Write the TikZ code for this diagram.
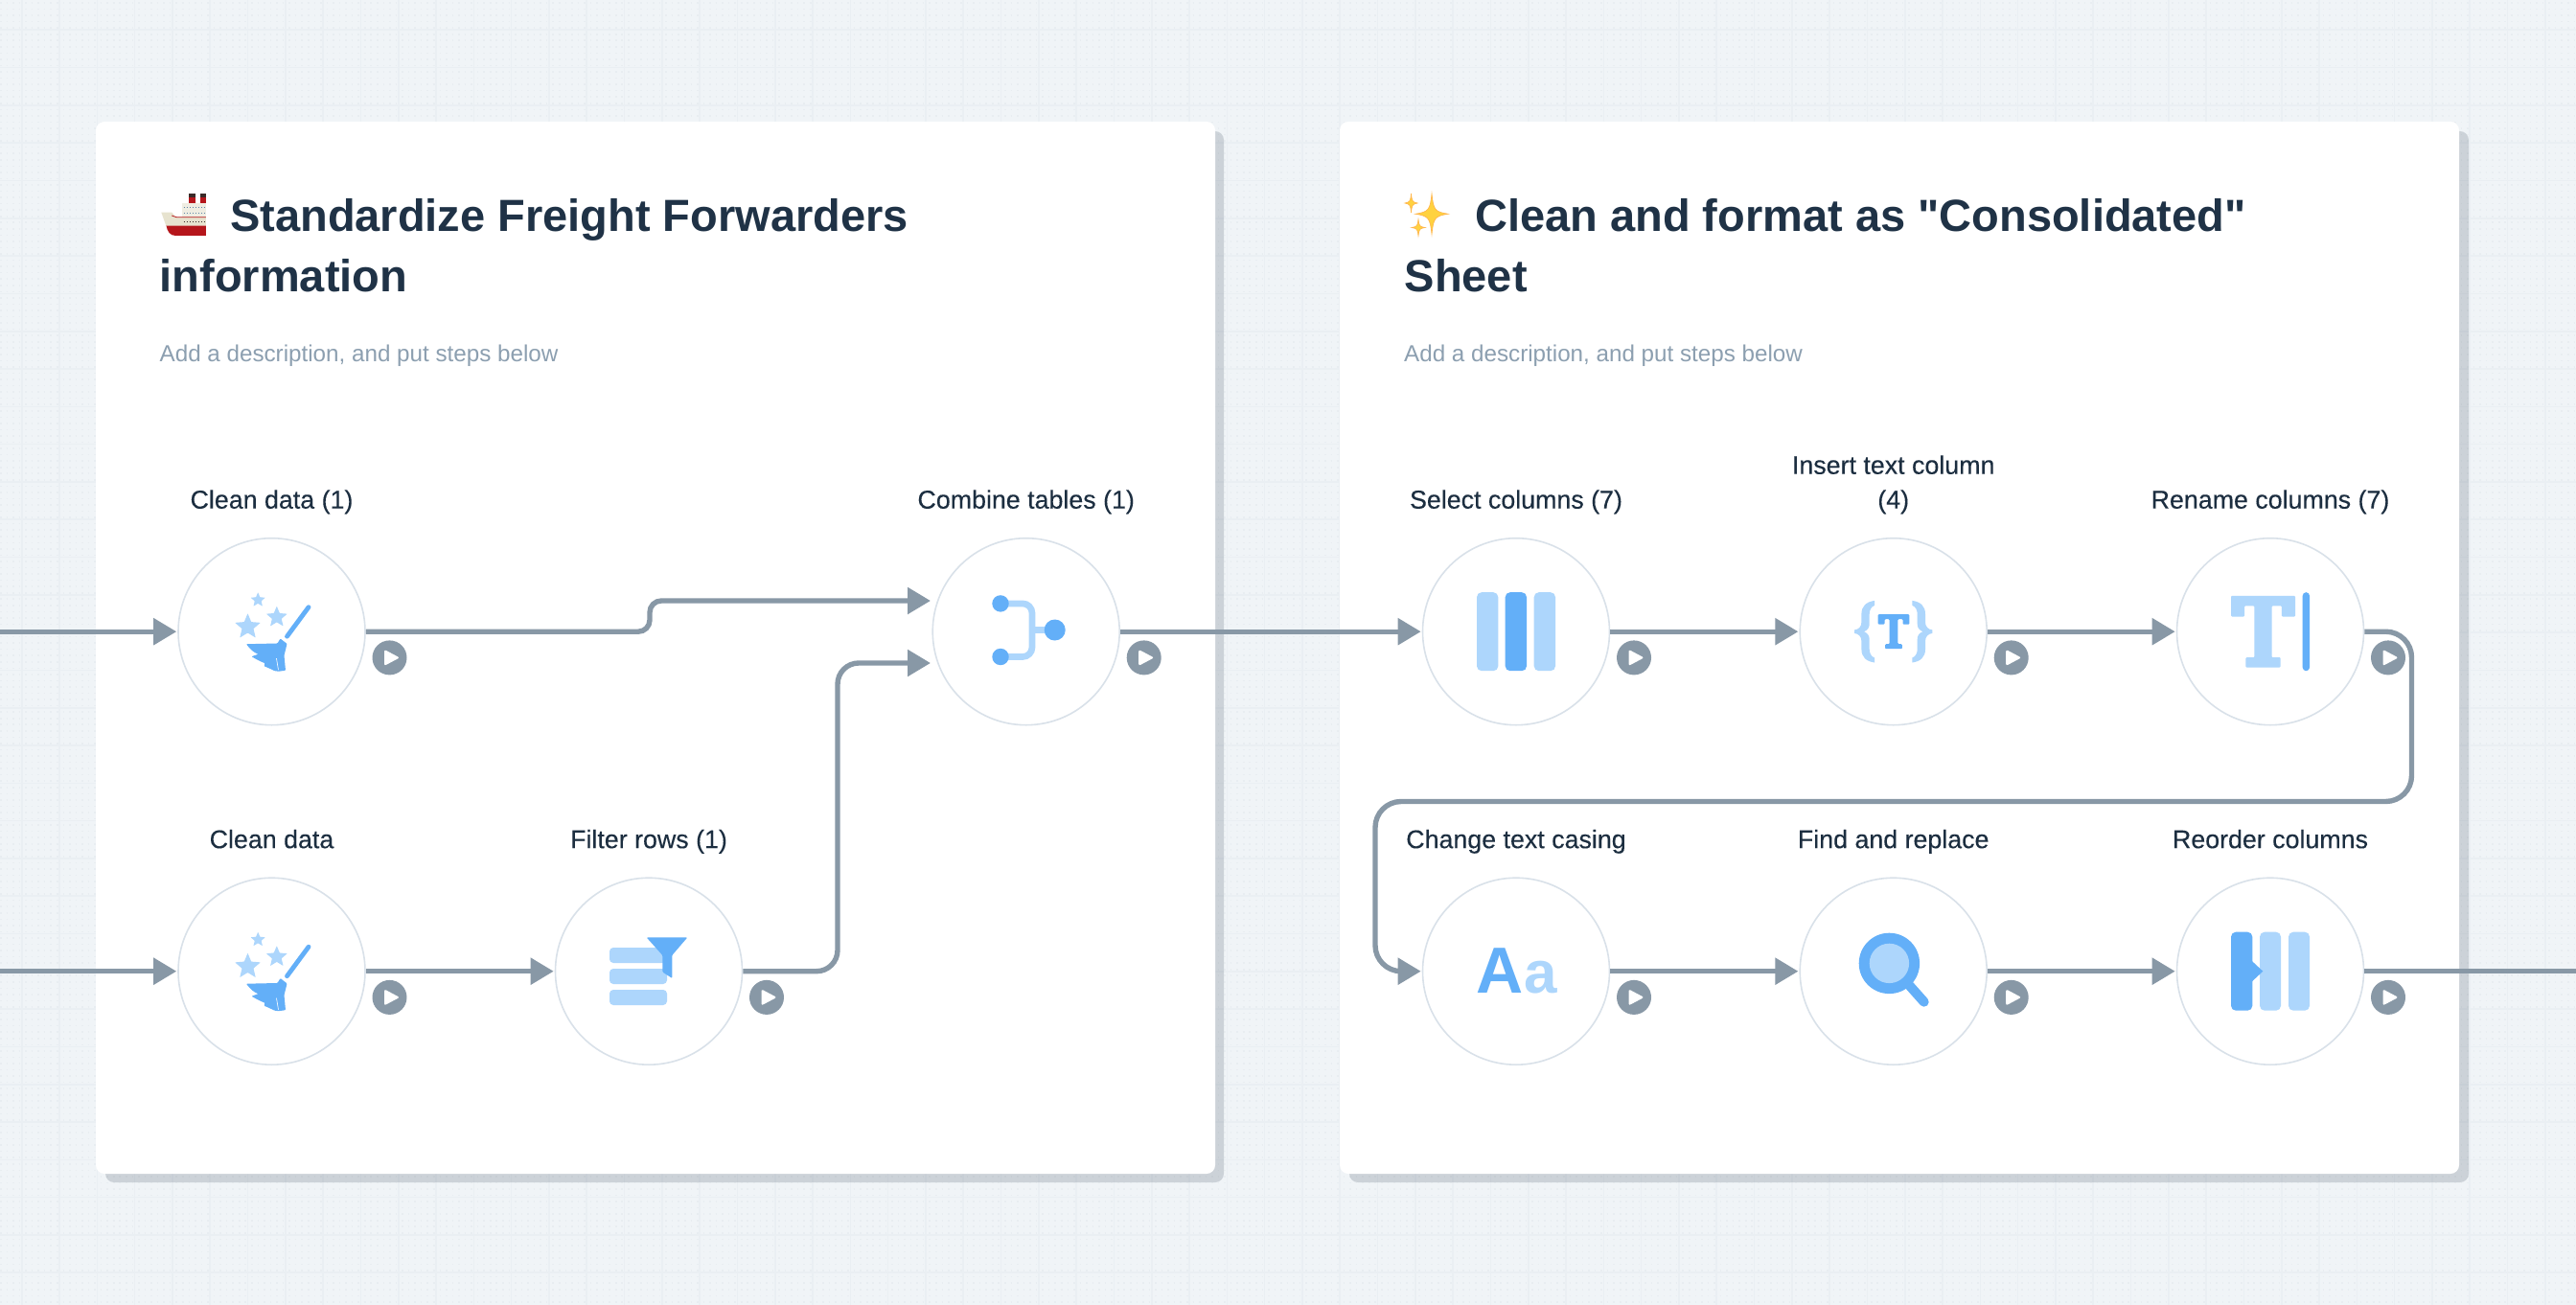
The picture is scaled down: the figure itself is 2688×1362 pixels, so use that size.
\documentclass[tikz,border=0pt]{standalone}
\usepackage{fontspec}
\setmainfont{Liberation Sans}
\newfontfamily\titlefont{Liberation Sans}
\newfontfamily\labelfont[FakeBold=0.2]{Liberation Sans}
\usetikzlibrary{arrows.meta,calc}
\definecolor{pagebg}{HTML}{F0F4F7}
\definecolor{gridline}{HTML}{EAEFF3}
\definecolor{griddot}{HTML}{E8EDF1}
\definecolor{shadowtone}{HTML}{1F3044}
\definecolor{flowgray}{HTML}{8898A6}
\definecolor{stepline}{HTML}{D9E1E9}
\definecolor{icondark}{HTML}{63AFF8}
\definecolor{iconlight}{HTML}{ADD6FC}
\definecolor{titleink}{HTML}{1F3246}
\definecolor{labelink}{HTML}{1C2E40}
\definecolor{descink}{HTML}{8C9FB0}
\definecolor{sparkgold}{HTML}{FFD23F}
\definecolor{sparkedge}{HTML}{FFB74D}
\definecolor{shipcream}{HTML}{E7E3CF}
\definecolor{shipdeck}{HTML}{EFEDE2}
\definecolor{shipred}{HTML}{B5161B}
\definecolor{shipdark}{HTML}{3A2A28}
\definecolor{shipglass}{HTML}{5F87A8}
\newcommand{\iconstar}[3]{\begin{scope}[shift={(#1,#2)}]
  \fill[iconlight,rounded corners=.5pt] (-90:#3) -- (-54:{.45*#3}) -- (-18:#3) -- (18:{.45*#3}) -- (54:#3) -- (90:{.45*#3}) -- (126:#3) -- (162:{.45*#3}) -- (198:#3) -- (234:{.45*#3}) -- cycle;
\end{scope}}
\newcommand{\sparkle}[4]{\begin{scope}[shift={(#1,#2)},xscale=#3,yscale=#4]
  \fill[sparkgold,draw=sparkedge,line width=.7pt] (0,-1) .. controls (.1,-.2) and (.2,-.1) .. (1,0) .. controls (.2,.1) and (.1,.2) .. (0,1) .. controls (-.1,.2) and (-.2,.1) .. (-1,0) .. controls (-.2,-.1) and (-.1,-.2) .. (0,-1) -- cycle;
\end{scope}}
\tikzset{
  stepnode/.style={circle,draw=stepline,fill=white,line width=1.6pt,minimum size=195pt,inner sep=0pt},
  steplabel/.style={font=\labelfont\fontsize{26.8}{36}\selectfont,text=labelink,inner sep=0pt,text height=20pt,text depth=6pt,label distance=24pt},
  titlenode/.style={anchor=north west,align=left,inner sep=0pt,text=titleink,font=\titlefont\bfseries\fontsize{47}{63.5}\selectfont},
  descnode/.style={anchor=base west,inner sep=0pt,text=descink,font=\fontsize{24.2}{30}\selectfont},
  playnode/.style={circle,fill=flowgray,minimum size=36pt,inner sep=0pt},
  flowline/.style={line width=5.4pt,draw=flowgray},
  flowarrow/.style={flowline,-{Triangle[length=24pt,width=27pt]},shorten >=1pt},
  slabt/.pic={\fill[pic actions,rounded corners=1pt] (-.5,-.5) -- (.5,-.5) -- (.5,-.21) -- (.29,-.21) -- (.29,-.36) -- (.135,-.36) -- (.135,.36) -- (.27,.36) -- (.27,.5) -- (-.27,.5) -- (-.27,.36) -- (-.135,.36) -- (-.135,-.36) -- (-.29,-.36) -- (-.29,-.21) -- (-.5,-.21) -- cycle;},
  broomicon/.pic={
    \iconstar{-25}{-5}{14}
    \iconstar{5.3}{-15}{11.5}
    \iconstar{-14.3}{-33}{8}
    \draw[icondark,line width=4.8pt,line cap=round] (16,5) -- (38.5,-25.5);
    \fill[icondark,rounded corners=.8pt] (-26.5,13) .. controls (-22,19) and (-18,22) .. (-14,23.5) -- (-21,26) .. controls (-15,29.5) and (-11,31.5) .. (-7,33) -- (-8,36) .. controls (-3,38) and (0,39.5) .. (3,41) -- (7.3,41.5) -- (14.5,40.5) -- (13,25) -- (16,12.7) -- (9,7.3) -- (6,12.3) -- cycle;
    \draw[white,line width=.6pt] (5,28) -- (7,40);
  },
  filtericon/.pic={
    \foreach \y in {-24.7,-2.7,19.3}
      \fill[iconlight,rounded corners=4pt] (-41,\y) rectangle (19,\y+16);
    \fill[icondark,rounded corners=1pt] (-2.3,-35.3) -- (40.3,-35.3) -- (24.3,-16.7) -- (24.3,7.3) -- (14.3,.7) -- (14.3,-16.7) -- cycle;
  },
  mergeicon/.pic={
    \draw[iconlight,line width=6.7pt,rounded corners=10pt] (-26.7,-29.3) -- (6.3,-29.3) -- (6.3,26.3) -- (-26.7,26.3);
    \draw[iconlight,line width=6.7pt] (6.3,-1.7) -- (30,-1.7);
    \fill[icondark] (-26.7,-29.3) circle [radius=8.7pt];
    \fill[icondark] (-26.7,26.3) circle [radius=8.7pt];
    \fill[icondark] (30,-1.7) circle [radius=11pt];
  },
  columnsicon/.pic={
    \fill[iconlight,rounded corners=5pt] (-41,-41) rectangle (-18.7,41);
    \fill[icondark,rounded corners=5pt] (-11.3,-41) rectangle (11,41);
    \fill[iconlight,rounded corners=5pt] (18.7,-41) rectangle (41,41);
  },
  bracesicon/.pic={
    \foreach \s in {1,-1}
      \fill[iconlight,xscale=\s] (-19.7,-32.3) .. controls (-28.3,-31) and (-33.3,-26.7) .. (-33.3,-18.3) -- (-33.3,-10) .. controls (-33.3,-5) and (-36.3,-2.3) .. (-40.7,-1.7) -- (-40.7,1.7) .. controls (-36.3,2.3) and (-33.3,5) .. (-33.3,10) -- (-33.3,18.3) .. controls (-33.3,26.7) and (-28.3,31) .. (-19.7,32.3) -- (-19.7,27.3) .. controls (-23.5,26) and (-25,22) .. (-25,18.3) -- (-25,8) .. controls (-25,4) and (-27,1.5) .. (-30.7,0) .. controls (-27,-1.5) and (-25,-4) .. (-25,-8) -- (-25,-18.3) .. controls (-25,-22) and (-23.5,-26) .. (-19.7,-27.3) -- cycle;
    \pic[icondark,fill=icondark,shift={(.3,0)},xscale=32.7,yscale=36] {slabt};
  },
  renameicon/.pic={
    \pic[iconlight,fill=iconlight,shift={(-7.5,0)},xscale=67,yscale=74.7] {slabt};
    \fill[icondark,rounded corners=3.6pt] (33.7,-41) rectangle (41,41);
  },
  searchicon/.pic={
    \draw[icondark,line width=10pt,line cap=round] (16,14) -- (32,32);
    \fill[icondark] (-4.3,-8.3) circle [radius=31.7pt];
    \fill[iconlight] (-4.3,-8.3) circle [radius=20.7pt];
  },
  reordericon/.pic={
    \fill[icondark,rounded corners=5pt] (-41,-41) rectangle (-18.7,41);
    \fill[iconlight,rounded corners=5pt] (-11,-41) rectangle (11,41);
    \fill[iconlight,rounded corners=5pt] (19,-41) rectangle (41,41);
    \fill[icondark] (-19.5,-11) -- (-7.7,0) -- (-19.5,11) -- cycle;
  }
}

\begin{document}
\begin{tikzpicture}[x=1pt,y=-1pt]
  \useasboundingbox (0,0) rectangle (2688,1362);
  \fill[pagebg] (0,0) rectangle (2688,1362);
  % canvas grid
  \foreach \k in {0,...,68}
    \draw[gridline,line width=1.6pt] (22.7+39.3*\k,0) -- (22.7+39.3*\k,1362);
  \foreach \k in {0,...,34}
    \draw[gridline,line width=1.6pt] (0,31.3+39.3*\k) -- (2688,31.3+39.3*\k);
  \foreach \k in {0,...,208}
    \draw[griddot,line width=1.6pt,dash pattern=on 1.6pt off 4.95pt] (0,3+6.55*\k) -- (2688,3+6.55*\k);

  % panels
  \fill[shadowtone,opacity=.17,rounded corners=9pt] (110,137) rectangle (1277,1234);
  \fill[shadowtone,opacity=.17,rounded corners=9pt] (1408,137) rectangle (2576,1234);
  \fill[white,rounded corners=9pt] (100,127) rectangle (1268,1225);
  \fill[white,rounded corners=9pt] (1398,127) rectangle (2566,1225);

  % ship
  \begin{scope}[shift={(140,170)},scale=.3333]
    \fill[shipdark] (170,97) rectangle (192,108);
    \fill[shipdark] (207,97) rectangle (225,108);
    \fill[shipred] (170,108) rectangle (192,128);
    \fill[shipred] (207,108) rectangle (225,128);
    \fill[shipdeck] (150,125) rectangle (225,170);
    \fill[shipred] (100,195) .. controls (104,215) and (112,228) .. (130,228) -- (225,228) -- (225,195) -- cycle;
    \fill[shipcream] (85,155) -- (118,155) -- (130,170) -- (225,170) -- (225,197) -- (100,197) -- cycle;
    \draw[shipred,line width=.8pt] (118,165) -- (132,170) -- (225,170);
    \draw[shipglass,line width=1.4pt,dash pattern=on 1.4pt off 1.6pt] (155,140) -- (225,140);
    \draw[shipglass,line width=1.4pt,dash pattern=on 1.4pt off 1.6pt] (155,157) -- (225,157);
    \draw[shipdark,line width=1.4pt,dash pattern=on 1.4pt off 1.6pt] (155,184) -- (225,184);
  \end{scope}
  % sparkles
  \sparkle{1494}{223.3}{17}{21}
  \sparkle{1472.5}{212}{6.5}{10}
  \sparkle{1480}{237.5}{7}{8.5}

  % titles
  \node[titlenode] (titleleft) at (166.5,207) {\hspace*{73.5pt}Standardize Freight Forwarders\\information};
  \node[titlenode] (titleright) at (1465.5,207) {\hspace*{73.5pt}Clean and format as "Consolidated"\\Sheet};
  \node[descnode] (descleft) at (166.5,377) {Add a description, and put steps below};
  \node[descnode] (descright) at (1465,377) {Add a description, and put steps below};

  % steps
  \node[stepnode,label={[steplabel]above:Clean data (1)}] (clean) at (283.5,659.2) {};
  \node[stepnode,label={[steplabel]above:Combine tables (1)}] (combine) at (1070.7,659.2) {};
  \node[stepnode,label={[steplabel]above:Select columns (7)}] (select) at (1582,659.2) {};
  \node[stepnode,label={[steplabel,align=center]above:Insert text column\\(4)}] (insert) at (1975.7,659.2) {};
  \node[stepnode,label={[steplabel]above:Rename columns (7)}] (rename) at (2369,659.2) {};
  \node[stepnode,label={[steplabel]above:Clean data}] (cleanb) at (283.5,1013.7) {};
  \node[stepnode,label={[steplabel]above:Filter rows (1)}] (filter) at (677,1013.7) {};
  \node[stepnode,label={[steplabel]above:Change text casing}] (casing) at (1582,1013.7) {};
  \node[stepnode,label={[steplabel]above:Find and replace}] (find) at (1975.7,1013.7) {};
  \node[stepnode,label={[steplabel]above:Reorder columns}] (reorder) at (2369,1013.7) {};

  \coordinate (startclean) at (0,659.2);
  \coordinate (startcleanb) at (0,1013.7);
  \coordinate (mergetop) at (972,627);
  \coordinate (mergelow) at (972,692);
  \coordinate (finish) at (2688,1013.7);

\foreach \a/\b in {startclean/clean,startcleanb/cleanb,cleanb/filter,combine/select,select/insert,insert/rename,casing/find,find/reorder}
  \draw[flowarrow] (\a) -- (\b);
  \draw[flowline] (reorder) -- (finish);
  \draw[flowarrow,rounded corners=12pt] (clean) -- (678,659.2) -- (678,627) -- (mergetop);
  \draw[flowarrow,rounded corners=22pt] (filter) -- (874,1013.7) -- (874,692) -- (mergelow);
  \draw[flowarrow,rounded corners=27pt] (rename) -- (2516.5,659.2) -- (2516.5,836.5) -- (1435,836.5) -- (1435,1013.7) -- (casing);

\foreach \n in {clean,combine,select,insert,rename,cleanb,filter,casing,find,reorder} {
  \node[playnode] (play\n) at ($(\n)+(123,27.2)$) {};
  \fill[white,rounded corners=2pt] ($(play\n)+(-5.5,-8.5)$) -- ($(play\n)+(10.5,0)$) -- ($(play\n)+(-5.5,8.5)$) -- cycle;
}

  % icons
  \pic at (clean) {broomicon};
  \pic at (cleanb) {broomicon};
  \pic at (filter) {filtericon};
  \pic at (combine) {mergeicon};
  \pic at (select) {columnsicon};
  \pic at (insert) {bracesicon};
  \pic at (rename) {renameicon};
  \pic at (find) {searchicon};
  \pic at (reorder) {reordericon};
  \node[anchor=base,inner sep=0pt,text=icondark,font=\bfseries\fontsize{68}{68}\selectfont] (caseupper) at (1564.7,1036.7) {A};
  \node[anchor=base,inner sep=0pt,text=iconlight,font=\bfseries\fontsize{62}{62}\selectfont] (caselower) at (1608,1036.7) {a};
\end{tikzpicture}
\end{document}
